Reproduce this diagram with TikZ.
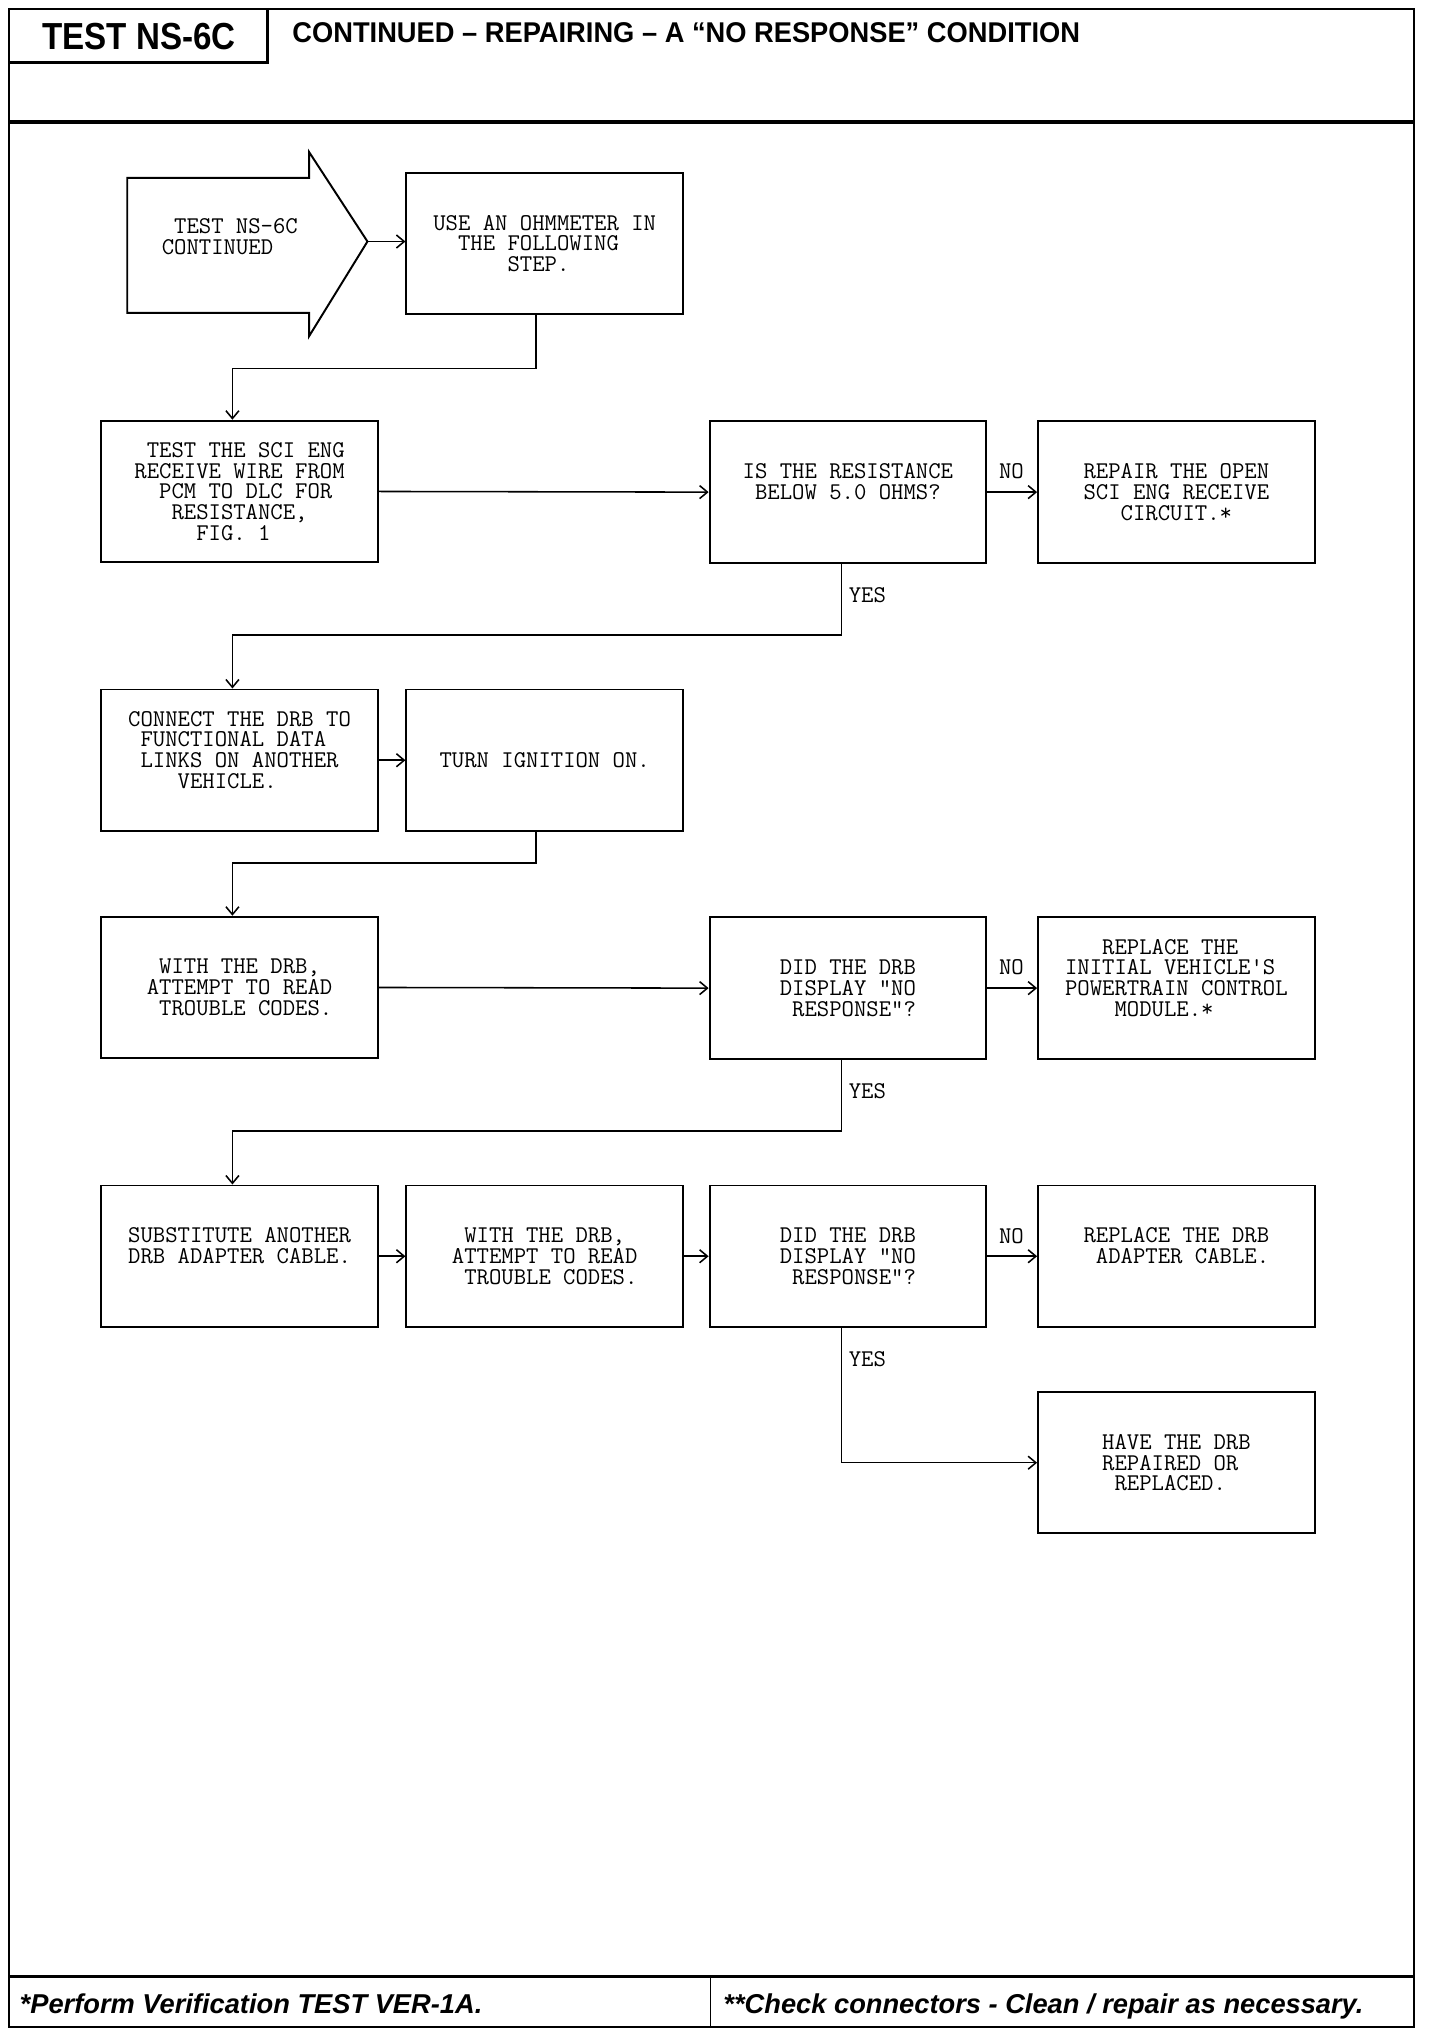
\documentclass[tikz,border=0pt]{standalone}
\usepackage{fontspec}
\setmainfont{Liberation Serif}
\setsansfont{Liberation Sans}
\usetikzlibrary{arrows.meta}
\begin{document}
\begin{tikzpicture}[x=1pt,y=-1pt,
  box/.style={draw, line width=1.5pt, minimum width=213pt, minimum height=109pt, inner sep=0pt, align=left, font=\ttfamily\fontsize{18.5}{16}\selectfont},
  conn/.style={line width=1.2pt, -{Straight Barb[length=6pt,width=10pt,line width=1.2pt]}},
  lab/.style={font=\ttfamily\fontsize{18.5}{16}\selectfont, inner sep=0pt},
  frame/.style={line width=2pt},
  foot/.style={font=\sffamily\bfseries\itshape\fontsize{21}{21}\selectfont, inner sep=0pt, anchor=base west}]
\useasboundingbox (0,0) rectangle (1109,1566.5);
% frame
\draw[frame] (7,7) rectangle (1089,1561);
\draw[frame] (7,48) -- (206,48) -- (206,7);
\draw[line width=3pt] (7,94) -- (1089,94);
\draw[frame] (7,1522) -- (1089,1522);
\draw[line width=1pt] (547,1522) -- (547,1561);
\node[font=\sffamily\bfseries\fontsize{29}{29}\selectfont, inner sep=0pt] (ttl) at (107,28) {\scalebox{0.88}[1]{TEST NS-6C}};
\node[font=\sffamily\bfseries\fontsize{22}{22}\selectfont, inner sep=0pt, anchor=base west] (head) at (225,33) {\scalebox{0.955}[1]{CONTINUED – REPAIRING – A “NO RESPONSE” CONDITION}};
\node[foot] (f1) at (15,1551) {*Perform Verification TEST VER-1A.};
\node[foot] (f2) at (557,1551) {**Check connectors - Clean / repair as necessary.};
% start arrow
\draw[line width=1.5pt] (98,137) -- (238,137) -- (238,117) -- (283,186) -- (238,259) -- (238,241) -- (98,241) -- cycle;
\coordinate (tip) at (283,186);
\node[lab, align=left] (start) at (177,182) {~TEST NS-6C\\CONTINUED};
% boxes
\node[box] (b1) at (419.5,187.5) {USE AN OHMMETER IN\\~~THE FOLLOWING\\~~~~~~STEP.};
\node[box] (b2) at (184.5,378.5) {~TEST THE SCI ENG\\RECEIVE WIRE FROM\\~~PCM TO DLC FOR\\~~~RESISTANCE,\\~~~~~FIG. 1};
\node[box] (d1) at (653,379) {IS THE RESISTANCE\\~BELOW 5.0 OHMS?\\\mbox{}};
\node[box] (r1) at (906,379) {REPAIR THE OPEN\\SCI ENG RECEIVE\\~~~CIRCUIT.*};
\node[box] (b3) at (184.5,585.5) {CONNECT THE DRB TO\\~FUNCTIONAL DATA\\~LINKS ON ANOTHER\\~~~~VEHICLE.\\\mbox{}};
\node[box] (b4) at (419.5,585.5) {TURN IGNITION ON.};
\node[box] (b5) at (184.5,760.5) {~WITH THE DRB,\\ATTEMPT TO READ\\~TROUBLE CODES.};
\node[box] (d2) at (653,761) {DID THE DRB\\DISPLAY "NO\\~RESPONSE"?};
\node[box] (r2) at (906,761) {~~~REPLACE THE\\INITIAL VEHICLE'S\\POWERTRAIN CONTROL\\~~~~MODULE.*\\\mbox{}};
\node[box] (b6) at (184.5,967.5) {SUBSTITUTE ANOTHER\\DRB ADAPTER CABLE.\\\mbox{}};
\node[box] (b7) at (419.5,967.5) {~WITH THE DRB,\\ATTEMPT TO READ\\~TROUBLE CODES.};
\node[box] (d3) at (653,967.5) {DID THE DRB\\DISPLAY "NO\\~RESPONSE"?};
\node[box] (r3) at (906,967.5) {REPLACE THE DRB\\~ADAPTER CABLE.\\\mbox{}};
\node[box] (r4) at (906,1126.5) {HAVE THE DRB\\REPAIRED OR\\~REPLACED.};
% connectors
\draw[conn] (tip) -- (tip -| b1.west);
\draw[conn] ([xshift=-6.5pt]b1.south) -- ++(0,41) -| ([xshift=-5.5pt]b2.north);
\draw[conn] (b2.east) -- (d1.west);
\draw[conn] (d1.east) -- (r1.west);
\draw[conn] ([xshift=-5pt]d1.south) -- ++(0,55) -| ([xshift=-5.5pt]b3.north);
\draw[conn] (b3.east) -- (b4.west);
\draw[conn] ([xshift=-6.5pt]b4.south) -- ++(0,24) -| ([xshift=-5.5pt]b5.north);
\draw[conn] (b5.east) -- (d2.west);
\draw[conn] (d2.east) -- (r2.west);
\draw[conn] ([xshift=-5pt]d2.south) -- ++(0,55) -| ([xshift=-5.5pt]b6.north);
\draw[conn] (b6.east) -- (b7.west);
\draw[conn] (b7.east) -- (d3.west);
\draw[conn] (d3.east) -- (r3.west);
\draw[conn] ([xshift=-5pt]d3.south) |- (r4.west);
% labels
\node[lab] (no1) at (779,363) {NO};
\node[lab] (no2) at (779,745) {NO};
\node[lab] (no3) at (779,952) {NO};
\node[lab] (yes1) at (668,458) {YES};
\node[lab] (yes2) at (668,840) {YES};
\node[lab] (yes3) at (668,1047) {YES};
\end{tikzpicture}
\end{document}
